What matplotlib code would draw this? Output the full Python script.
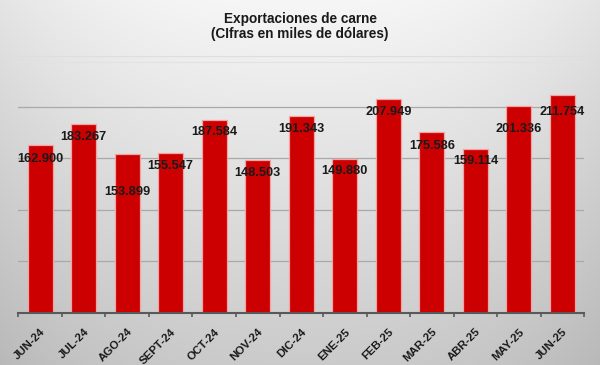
import matplotlib
matplotlib.use("Agg")
import matplotlib.pyplot as plt
import numpy as np

categories = ["JUN-24", "JUL-24", "AGO-24", "SEPT-24", "OCT-24", "NOV-24", "DIC-24",
              "ENE-25", "FEB-25", "MAR-25", "ABR-25", "MAY-25", "JUN-25"]
values = [162900, 183267, 153899, 155547, 187584, 148503, 191343,
          149880, 207949, 175586, 159114, 201336, 211754]
# label offset below bar top, in pixels (layout only)
label_offsets_px = [13.3, 12.3, 37.7, 13.4, 12.6, 13.0, 12.6, 12.4, 13.4, 13.4, 12.3, 23.3, 16.6]

title = "Exportaciones de carne\n(CIfras en miles de dólares)"

plt.rcParams['font.family'] = ['Liberation Sans', 'DejaVu Sans']

W, H = 600, 365
fig = plt.figure(figsize=(W / 100, H / 100), dpi=100)

# background gradient
bg = fig.add_axes([0, 0, 1, 1], zorder=-10)
yy, xx = np.mgrid[0:1:365j, 0:1:600j]
v = 0.965 - 0.17 * yy
v = v - 0.07 * (np.abs(xx - 0.5) * 2) ** 2.5
img = np.dstack([v, v, v])
bg.imshow(img, aspect='auto', extent=[0, 1, 0, 1], origin='upper')
bg.set_axis_off()
bg.plot([0.02, 0.98], [1 - 62 / 365, 1 - 62 / 365], color='#e2e2e2', lw=0.8)
bg.set_xlim(0, 1); bg.set_ylim(0, 1)

ax = fig.add_axes([18.3 / W, (H - 312.7) / H, 566 / W, 257 / H])
ax.set_facecolor('none')
x = np.arange(len(categories))
ax.bar(x, values, width=0.574, color='#cc0000', edgecolor='#f3a3a3', linewidth=0.9, zorder=3)

ax.set_xlim(-0.5, len(categories) - 0.5)
ax.set_ylim(0, 250000)
ax.set_yticks([50000, 100000, 150000, 200000])
ax.yaxis.set_tick_params(length=0, labelleft=False)
for g in [50000, 100000, 150000, 200000]:
    ax.axhline(g, color='#a9a9a9', lw=0.9, zorder=1)
ax.axhline(250000, color='#dedede', lw=0.9, zorder=1)

for s in ['top', 'right', 'left']:
    ax.spines[s].set_visible(False)
ax.spines['bottom'].set_color('#595959')
ax.spines['bottom'].set_linewidth(1.5)
ax.spines['bottom'].set_zorder(4)

ax.set_xticks(x)
ax.set_xticklabels(categories, rotation=45, ha='right', va='top',
                   rotation_mode='anchor', fontsize=8.2, fontweight='bold', color='#1a1a1a')
ax.tick_params(axis='x', which='major', length=0, pad=10)
ax.set_xticks(np.arange(-0.5, len(categories), 1.0), minor=True)
ax.tick_params(axis='x', which='minor', length=3, width=1.2, color='#595959', direction='out')

for i, val in enumerate(values):
    lab = f"{val:,}".replace(",", ".")
    ax.annotate(lab, (i, val), xytext=(0, -label_offsets_px[i] * 0.72), textcoords='offset points',
                ha='center', va='center', fontsize=9.2, fontweight='bold', color='#1a1a1a', zorder=5)

fig.text(0.5, 1 - 26.5 / H, title, ha='center', va='center', fontsize=9.8,
         fontweight='bold', color='#1a1a1a', linespacing=1.12)

fig.savefig("out.png", dpi=100)
